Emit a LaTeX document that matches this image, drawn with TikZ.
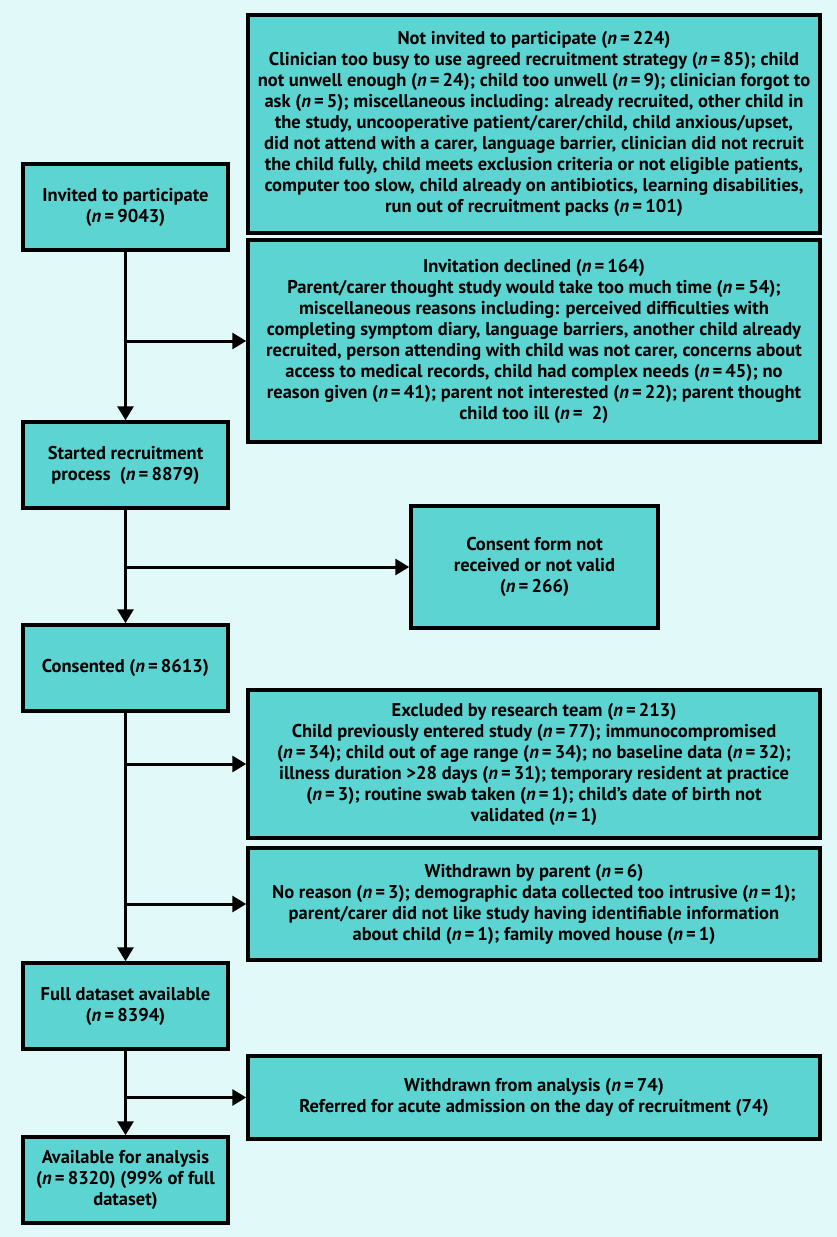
\documentclass[tikz,border=0pt]{standalone}
\usepackage{fontspec}
\setmainfont{PT Sans}
\usepackage{xcolor}
\usetikzlibrary{arrows.meta,positioning}
\definecolor{bgcyan}{RGB}{225,249,249}
\definecolor{boxcyan}{RGB}{92,212,210}
\newcommand{\ncnt}[1]{(\textit{n}\,=\,#1)}

\begin{document}
\begin{tikzpicture}[x=1pt,y=-1pt,->,>={Triangle[length=14pt,width=16pt]},line width=3pt,
                    flowbox/.style={rectangle, draw=black, fill=boxcyan, line width=3.5pt, align=center,
                                    font=\fontsize{18.5}{21}\selectfont\bfseries, inner sep=2pt},
                    leftbox/.style={flowbox, minimum width=205pt, minimum height=86pt},
                    sidebox/.style={flowbox, minimum width=572pt}]
  \fill[bgcyan] (0,0) rectangle (837,1237);
  \useasboundingbox (0,0) rectangle (837,1237);

  % main column
  \node[leftbox] (invited)  at (125.5,207)  {Invited to participate\\\ncnt{9043}};
  \node[leftbox] (started)  at (125.5,465)  {Started recruitment\\process\ \ \ncnt{8879}};
  \node[leftbox] (consented) at (125.5,668) {Consented \ncnt{8613}};
  \node[leftbox] (full)     at (125.5,1006) {Full dataset available\\\ncnt{8394}};
  \node[leftbox] (avail)    at (125.5,1180) {Available for analysis\\\ncnt{8320} (99\% of full\\dataset)};

  % side boxes
  \node[sidebox, minimum height=218pt] (notinvited) at (534,124)
    {Not invited to participate \ncnt{224}\\
     Clinician too busy to use agreed recruitment strategy \ncnt{85}; child\\
     not unwell enough \ncnt{24}; child too unwell \ncnt{9}; clinician forgot to\\
     ask \ncnt{5}; miscellaneous including: already recruited, other child in\\
     the study, uncooperative patient/carer/child, child anxious/upset,\\
     did not attend with a carer, language barrier, clinician did not recruit\\
     the child fully, child meets exclusion criteria or not eligible patients,\\
     computer too slow, child already on antibiotics, learning disabilities,\\
     run out of recruitment packs \ncnt{101}};
  \node[sidebox, minimum height=202pt] (declined) at (534,341)
    {Invitation declined \ncnt{164}\\
     Parent/carer thought study would take too much time \ncnt{54};\\
     miscellaneous reasons including: perceived difficulties with\\
     completing symptom diary, language barriers, another child already\\
     recruited, person attending with child was not carer, concerns about\\
     access to medical records, child had complex needs \ncnt{45}; no\\
     reason given \ncnt{41}; parent not interested \ncnt{22}; parent thought\\
     child too ill (\textit{n}\,=\ \ 2)};
  \node[flowbox, minimum width=247pt, minimum height=122pt] (consentform) at (534.5,567)
    {Consent form not\\received or not valid\\\ncnt{266}};
  \node[sidebox, minimum height=148pt] (excluded) at (534,764)
    {Excluded by research team \ncnt{213}\\
     Child previously entered study \ncnt{77}; immunocompromised\\
     \ncnt{34}; child out of age range \ncnt{34}; no baseline data \ncnt{32};\\
     illness duration >28 days \ncnt{31}; temporary resident at practice\\
     \ncnt{3}; routine swab taken \ncnt{1}; child's date of birth not\\
     validated \ncnt{1}};
  \node[sidebox, minimum height=112pt] (byparent) at (534,904)
    {Withdrawn by parent \ncnt{6}\\
     No reason \ncnt{3}; demographic data collected too intrusive \ncnt{1};\\
     parent/carer did not like study having identifiable information\\
     about child \ncnt{1}; family moved house \ncnt{1}};
  \node[sidebox, minimum height=83pt] (fromanalysis) at (534,1097.5)
    {Withdrawn from analysis \ncnt{74}\\
     Referred for acute admission on the day of recruitment (74)};

  % connectors
  \draw (invited) -- (started);
  \draw (started) -- (consented);
  \draw (consented) -- (full);
  \draw (full) -- (avail);
  \draw (invited.south |- declined.west) -- (declined.west);
  \draw (started.south |- consentform.west) -- (consentform.west);
  \draw (consented.south |- excluded.west) -- (excluded.west);
  \draw (consented.south |- byparent.west) -- (byparent.west);
  \draw (full.south |- fromanalysis.west) -- (fromanalysis.west);
\end{tikzpicture}
\end{document}
